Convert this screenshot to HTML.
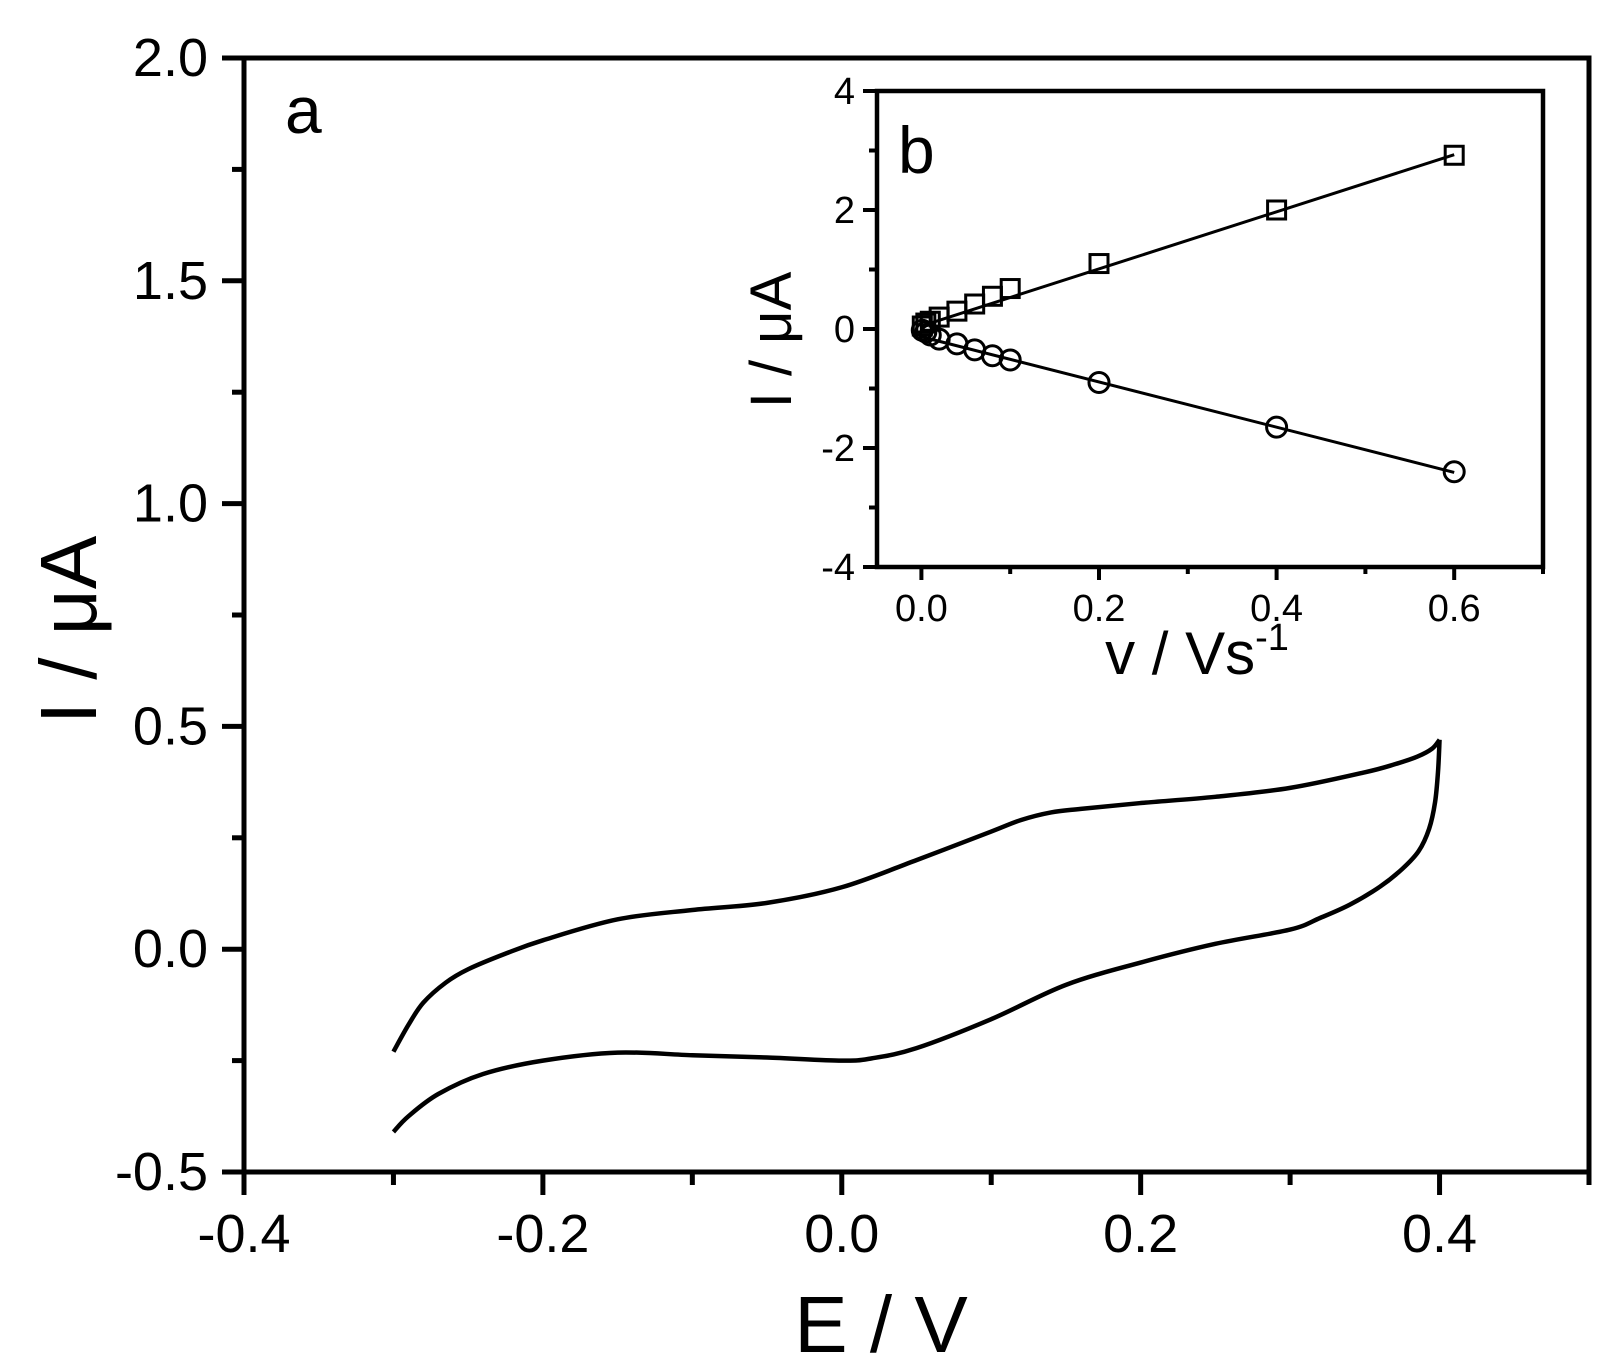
<!DOCTYPE html>
<html><head><meta charset="utf-8"><style>
html,body{margin:0;padding:0;background:#fff}
svg{display:block;font-family:"Liberation Sans",Arial,sans-serif}
</style></head><body>
<svg id="chart" width="1613" height="1371" viewBox="0 0 1613 1371" xmlns="http://www.w3.org/2000/svg">
<rect width="1613" height="1371" fill="#fff"/>
<g id="main"></g>
<g id="inset"></g>
</svg>
<script>
// main chart data
const mainXTicks=[-0.4,-0.2,0.0,0.2,0.4];
const mainYTicks=[-0.5,0.0,0.5,1.0,1.5,2.0];
const forwardE=[-0.3,-0.29,-0.28,-0.265,-0.25,-0.225,-0.2,-0.15,-0.1,-0.05,0,0.05,0.1,0.12,0.14,0.16,0.2,0.25,0.3,0.35,0.37,0.385,0.395,0.4];
const forwardI=[-0.23,-0.17,-0.12,-0.075,-0.045,-0.01,0.02,0.067,0.088,0.104,0.139,0.2,0.264,0.29,0.307,0.315,0.328,0.342,0.362,0.397,0.415,0.432,0.45,0.47];
const reverseE=[0.4,0.399,0.397,0.393,0.386,0.375,0.36,0.34,0.32,0.3,0.25,0.2,0.15,0.1,0.05,0.02,0,-0.05,-0.1,-0.15,-0.2,-0.24,-0.27,-0.29,-0.3];
const reverseI=[0.47,0.40,0.33,0.27,0.22,0.18,0.14,0.10,0.07,0.044,0.012,-0.03,-0.08,-0.157,-0.222,-0.245,-0.25,-0.243,-0.238,-0.232,-0.25,-0.28,-0.325,-0.375,-0.41];
// inset data
const insetXTicks=[0.0,0.2,0.4,0.6];
const insetYTicks=[-4,-2,0,2,4];
const scanRates=[0.001,0.005,0.01,0.02,0.04,0.06,0.08,0.1,0.2,0.4,0.6];
const anodicPeak=[0.05,0.1,0.13,0.2,0.3,0.42,0.55,0.68,1.1,2.0,2.92];
const cathodicPeak=[-0.02,-0.05,-0.1,-0.17,-0.25,-0.35,-0.45,-0.52,-0.9,-1.65,-2.4];
const anodicFit=[0.05,4.8];   // intercept, slope
const cathodicFit=[-0.13,-3.8];

const NS="http://www.w3.org/2000/svg";
function mk(parent,tag,attrs,name){const e=document.createElementNS(NS,tag);for(const k in attrs)e.setAttribute(k,attrs[k]);


parent.appendChild(e);return e;}
function fmt(v,d){return v.toFixed(d);}

// main axes
const M={l:244,r:1589,t:58,b:1172,x0:-0.4,x1:0.5,y0:-0.5,y1:2.0};
const mx=v=>M.l+(v-M.x0)/(M.x1-M.x0)*(M.r-M.l);
const my=v=>M.b-(v-M.y0)/(M.y1-M.y0)*(M.b-M.t);
const g=document.getElementById('main');
mk(g,'rect',{x:M.l,y:M.t,width:M.r-M.l,height:M.b-M.t,fill:'none',stroke:'#000','stroke-width':5},'main-plot-frame');
for(let k=0;k<=9;k++){const v=-0.4+k*0.1;const x=mx(v);const major=k%2===0;
mk(g,'line',{x1:x,y1:M.b,x2:x,y2:M.b+(major?23:13),stroke:'#000','stroke-width':5},'x-tick');}
mainXTicks.forEach(v=>{const t=mk(g,'text',{x:mx(v),y:M.b+80,'font-size':54,'text-anchor':'middle'},'x-tick-label');t.textContent=fmt(v,1);});
for(let k=0;k<=10;k++){const v=-0.5+k*0.25;const y=my(v);const major=k%2===0;
mk(g,'line',{x1:M.l,y1:y,x2:M.l-(major?22:12),y2:y,stroke:'#000','stroke-width':5},'y-tick');}
mainYTicks.forEach(v=>{const t=mk(g,'text',{x:M.l-36,y:my(v)+18,'font-size':54,'text-anchor':'end'},'y-tick-label');t.textContent=fmt(v,1);});
let tx=mk(g,'text',{x:881,y:1352,'font-size':80,'text-anchor':'middle'},'x-axis-title');tx.textContent='E / V';
let ty=mk(g,'text',{x:0,y:0,'font-size':80,'text-anchor':'middle',transform:'translate(96,630) rotate(-90)'},'y-axis-title');ty.textContent='I / μA';
let la=mk(g,'text',{x:285,y:133,'font-size':66},'panel-label-a');la.textContent='a';
function smooth(p){let d='M'+p[0][0]+','+p[0][1];for(let i=0;i<p.length-1;i++){const p0=p[Math.max(0,i-1)],p1=p[i],p2=p[i+1],p3=p[Math.min(p.length-1,i+2)];
const c1=[p1[0]+(p2[0]-p0[0])/6,p1[1]+(p2[1]-p0[1])/6],c2=[p2[0]-(p3[0]-p1[0])/6,p2[1]-(p3[1]-p1[1])/6];
d+=' C'+c1[0]+','+c1[1]+' '+c2[0]+','+c2[1]+' '+p2[0]+','+p2[1];}return d;}
const fw=forwardE.map((e,i)=>[mx(e),my(forwardI[i])]);
const rv=reverseE.map((e,i)=>[mx(e),my(reverseI[i])]);
mk(g,'path',{d:smooth(fw),fill:'none',stroke:'#000','stroke-width':4.5},'cv-forward-scan');
mk(g,'path',{d:smooth(rv),fill:'none',stroke:'#000','stroke-width':4.5},'cv-reverse-scan');

// inset
const I={l:877,r:1543,t:91,b:567,x0:-0.05,x1:0.7,y0:-4,y1:4};
const ix=v=>I.l+(v-I.x0)/(I.x1-I.x0)*(I.r-I.l);
const iy=v=>I.b-(v-I.y0)/(I.y1-I.y0)*(I.b-I.t);
const h=document.getElementById('inset');
mk(h,'rect',{x:I.l,y:I.t,width:I.r-I.l,height:I.b-I.t,fill:'#fff',stroke:'#000','stroke-width':4.5},'inset-plot-frame');
for(let k=0;k<=7;k++){const v=k*0.1;const x=ix(v);mk(h,'line',{x1:x,y1:I.b,x2:x,y2:I.b+(k%2===0?13:7),stroke:'#000','stroke-width':4},'inset-x-tick');}
insetXTicks.forEach(v=>{const t=mk(h,'text',{x:ix(v),y:I.b+54,'font-size':38,'text-anchor':'middle'},'inset-x-tick-label');t.textContent=fmt(v,1);});
for(let v=-4;v<=4;v++){const y=iy(v);mk(h,'line',{x1:I.l,y1:y,x2:I.l-(v%2===0?14:8),y2:y,stroke:'#000','stroke-width':4},'inset-y-tick');}
insetYTicks.forEach(v=>{const t=mk(h,'text',{x:I.l-22,y:iy(v)+13,'font-size':38,'text-anchor':'end'},'inset-y-tick-label');t.textContent=String(v);});
let itx=mk(h,'text',{x:1197,y:674,'font-size':60,'text-anchor':'middle'},'inset-x-axis-title');itx.innerHTML='v / Vs<tspan dy="-24" font-size="38">-1</tspan>';
let ity=mk(h,'text',{x:0,y:0,'font-size':58,'text-anchor':'middle',transform:'translate(791,340) rotate(-90)'},'inset-y-axis-title');ity.textContent='I / μA';
let lb=mk(h,'text',{x:898,y:173,'font-size':66},'panel-label-b');lb.textContent='b';
mk(h,'line',{x1:ix(0),y1:iy(anodicFit[0]),x2:ix(0.6),y2:iy(anodicFit[0]+anodicFit[1]*0.6),stroke:'#000','stroke-width':3},'anodic-fit-line');
mk(h,'line',{x1:ix(0),y1:iy(cathodicFit[0]),x2:ix(0.6),y2:iy(cathodicFit[0]+cathodicFit[1]*0.6),stroke:'#000','stroke-width':3},'cathodic-fit-line');
scanRates.forEach((v,i)=>{mk(h,'rect',{x:ix(v)-9,y:iy(anodicPeak[i])-9,width:18,height:18,fill:'none',stroke:'#000','stroke-width':3},'anodic-peak-point');
mk(h,'circle',{cx:ix(v),cy:iy(cathodicPeak[i]),r:10,fill:'none',stroke:'#000','stroke-width':3},'cathodic-peak-point');});
</script>
</body></html>
